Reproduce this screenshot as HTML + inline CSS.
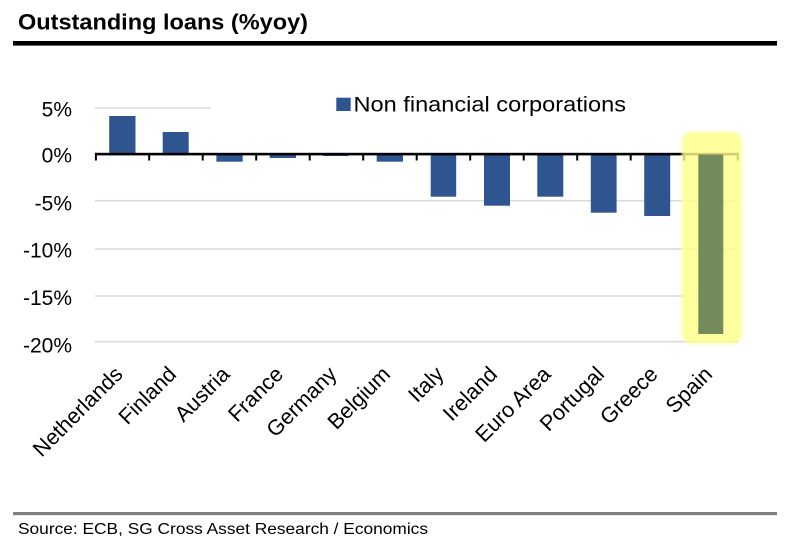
<!DOCTYPE html>
<html>
<head>
<meta charset="utf-8">
<style>
  html, body { margin: 0; padding: 0; background: #ffffff; }
  svg { display: block; }
  text { font-family: "Liberation Sans", Arial, sans-serif; fill: #000; }
</style>
</head>
<body>
<svg width="786" height="551" viewBox="0 0 786 551" xmlns="http://www.w3.org/2000/svg">
  <defs>
    <filter id="soft" x="-10%" y="-10%" width="120%" height="120%">
      <feGaussianBlur stdDeviation="1.2"/>
    </filter>
  </defs>
  <rect x="0" y="0" width="786" height="551" fill="#ffffff"/>

  <!-- Title -->
  <text x="18" y="29.5" font-size="22.5" font-weight="bold" textLength="290" lengthAdjust="spacingAndGlyphs">Outstanding loans (%yoy)</text>
  <rect x="13" y="41" width="764" height="4.6" fill="#000"/>

  <!-- Gridlines -->
  <g stroke="#d9d9d9" stroke-width="1.6">
    <line x1="95" y1="108" x2="211" y2="108"/>
    <line x1="95" y1="200.7" x2="738" y2="200.7"/>
    <line x1="95" y1="249" x2="738" y2="249"/>
    <line x1="95" y1="296" x2="738" y2="296"/>
    <line x1="95" y1="341.7" x2="738" y2="341.7"/>
  </g>

  <!-- Y labels -->
  <g font-size="21" text-anchor="end">
    <text x="72" y="116.5">5%</text>
    <text x="72" y="162.7">0%</text>
    <text x="72" y="210.5">-5%</text>
    <text x="72" y="257.7">-10%</text>
    <text x="72" y="305">-15%</text>
    <text x="72" y="352.5">-20%</text>
  </g>

  <!-- Bars -->
  <g fill="#2f5591">
    <rect x="109.2" y="116" width="26.3" height="38"/>
    <rect x="162.7" y="132" width="26" height="22"/>
    <rect x="216.4" y="154" width="26.3" height="7.7"/>
    <rect x="269.7" y="154" width="26.3" height="4"/>
    <rect x="323" y="154" width="25.5" height="2"/>
    <rect x="376.7" y="154" width="26.3" height="7.7"/>
    <rect x="430.7" y="154" width="25.5" height="42.7"/>
    <rect x="484" y="154" width="26" height="51.7"/>
    <rect x="537.3" y="154" width="26" height="42.7"/>
    <rect x="590.8" y="154" width="25.8" height="58.7"/>
    <rect x="644.2" y="154" width="26" height="62"/>
  </g>

  <!-- Axis -->
  <rect x="95" y="152.8" width="644" height="2.6" fill="#000"/>
  <g stroke="#000" stroke-width="2">
    <line x1="95.9" y1="153" x2="95.9" y2="160.5"/>
    <line x1="149.2" y1="153" x2="149.2" y2="160.5"/>
    <line x1="202.7" y1="153" x2="202.7" y2="160.5"/>
    <line x1="256.2" y1="153" x2="256.2" y2="160.5"/>
    <line x1="309.7" y1="153" x2="309.7" y2="160.5"/>
    <line x1="363.2" y1="153" x2="363.2" y2="160.5"/>
    <line x1="416.7" y1="153" x2="416.7" y2="160.5"/>
    <line x1="470.2" y1="153" x2="470.2" y2="160.5"/>
    <line x1="523.7" y1="153" x2="523.7" y2="160.5"/>
    <line x1="577.2" y1="153" x2="577.2" y2="160.5"/>
    <line x1="630.7" y1="153" x2="630.7" y2="160.5"/>
    <line x1="684.2" y1="153" x2="684.2" y2="160.5"/>
    <line x1="737.7" y1="153" x2="737.7" y2="160.5"/>
  </g>

  <!-- Highlight -->
  <rect x="681.7" y="131.7" width="60.3" height="212" rx="10" ry="10" fill="#ffff8c" opacity="0.82" filter="url(#soft)"/>
  <!-- Spain bar -->
  <rect x="698.3" y="154.5" width="25" height="179.5" fill="#748b5b"/>

  <!-- Legend -->
  <rect x="336.3" y="97.7" width="14.4" height="13.3" fill="#2f5591"/>
  <text x="353.5" y="111.5" font-size="21" textLength="272.5" lengthAdjust="spacingAndGlyphs">Non financial corporations</text>

  <!-- X labels -->
  <g font-size="21.6" text-anchor="end">
    <text transform="translate(124,375.5) rotate(-45)">Netherlands</text>
    <text transform="translate(177.5,375.5) rotate(-45)">Finland</text>
    <text transform="translate(231,375.5) rotate(-45)">Austria</text>
    <text transform="translate(284.5,375.5) rotate(-45)">France</text>
    <text transform="translate(338,375.5) rotate(-45)">Germany</text>
    <text transform="translate(391.5,375.5) rotate(-45)">Belgium</text>
    <text transform="translate(445,375.5) rotate(-45)">Italy</text>
    <text transform="translate(498.5,375.5) rotate(-45)">Ireland</text>
    <text transform="translate(552,375.5) rotate(-45)">Euro Area</text>
    <text transform="translate(605.5,375.5) rotate(-45)">Portugal</text>
    <text transform="translate(659,375.5) rotate(-45)">Greece</text>
    <text transform="translate(713.5,375.5) rotate(-45)">Spain</text>
  </g>

  <!-- Footer -->
  <rect x="13" y="512" width="764" height="3.2" fill="#808080"/>
  <text x="18" y="534" font-size="15.5" textLength="410" lengthAdjust="spacingAndGlyphs" fill="#111">Source: ECB, SG Cross Asset Research / Economics</text>
</svg>
</body>
</html>
